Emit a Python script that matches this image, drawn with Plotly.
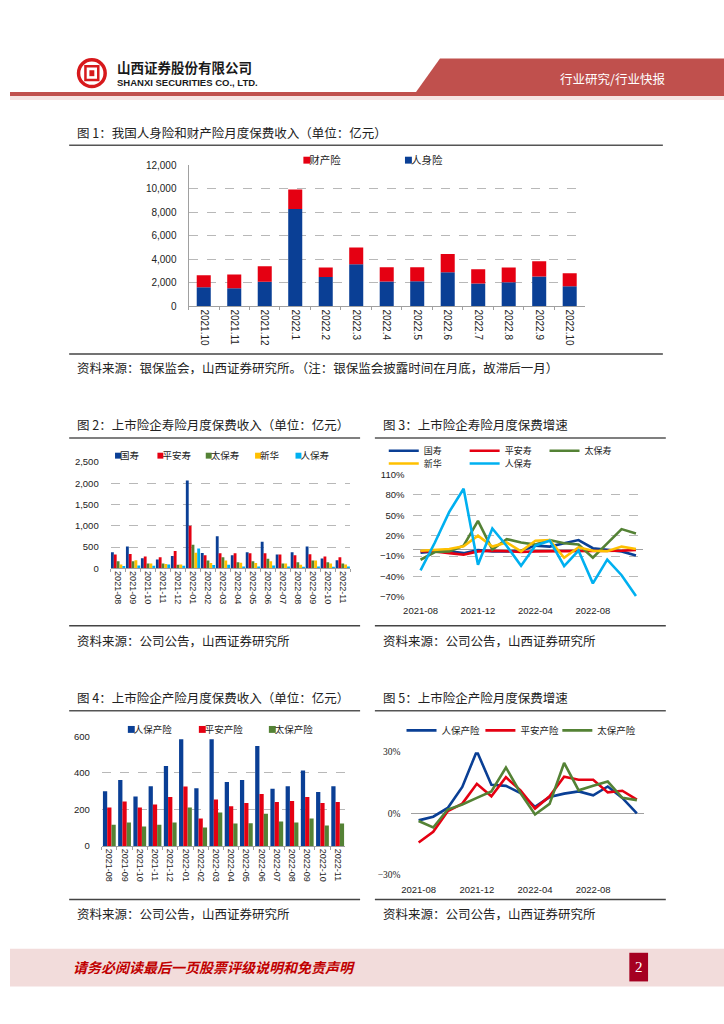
import plotly.graph_objects as go

W, H = 724, 1024
def px(x): return x / W
def py(y): return 1 - y / H

CJK = "Noto Sans CJK SC"
NUM = "Liberation Sans"

# ---------------- Data ----------------
# Fig 1: 人身险 / 财产险 monthly premium (亿元)
months1 = ["2021.10", "2021.11", "2021.12", "2022.1", "2022.2", "2022.3", "2022.4",
           "2022.5", "2022.6", "2022.7", "2022.8", "2022.9", "2022.10"]
life1 = [1620, 1540, 2090, 8280, 2490, 3590, 2120, 2140, 2900, 1940, 2060, 2550, 1710]
prop1 = [1020, 1180, 1330, 1640, 810, 1420, 1210, 1190, 1560, 1220, 1240, 1280, 1100]

# Fig 2/3/4/5 months
months2 = ["2021-08", "2021-09", "2021-10", "2021-11", "2021-12", "2022-01", "2022-02", "2022-03",
           "2022-04", "2022-05", "2022-06", "2022-07", "2022-08", "2022-09", "2022-10", "2022-11"]
ticks2 = ["2021-08", "2021-12", "2022-04", "2022-08"]

# Fig 2: life premium (亿元)
life_names = ["国寿", "平安寿", "太保寿", "新华", "人保寿"]
life_gs = [377, 515, 238, 208, 292, 2066, 362, 754, 308, 377, 623, 323, 377, 515, 231, 192]
life_pa = [323, 338, 277, 262, 408, 1000, 308, 354, 354, 354, 354, 323, 308, 331, 277, 262]
life_tb = [169, 169, 115, 115, 85, 554, 185, 262, 146, 169, 223, 115, 146, 185, 146, 115]
life_xh = [92, 192, 115, 100, 92, 369, 123, 185, 131, 123, 169, 115, 85, 185, 115, 92]
life_rb = [54, 69, 62, 92, 62, 469, 77, 85, 46, 46, 69, 46, 38, 46, 38, 46]

# Fig 3: life premium growth (%)
g_gs = [-5, -3, -3, -5.6, -1, -3, -3, -2, 5.5, 4, 9, 13.7, 1.6, -0.3, -3, -9]
g_pa = [-2.7, -3, -5.6, -8, -3, -2, -2.7, -4, -3, -3, -2.7, -2, -2, -3, -2, -1]
g_tb = [-15.3, -4, -3, 5.5, 41.8, -0.3, 15, 10, 7, 13.7, 9, 7, -12.4, 8, 29.7, 23.4]
g_xh = [-2, -0.3, 0.6, 4.5, 20, 4, 10, -3, 12.7, 13.7, -12.4, 3, -2, -2.7, 4, 0.6]
g_rb = [-30.8, 10, 55, 89, -22.6, 30.6, 5, -24, 5.5, 12.7, -24.5, -1.8, -50, -15, -38, -68.5]

# Fig 4: P&C premium (亿元)
pc_names = ["人保产险", "平安产险", "太保产险"]
pc_rb = [300, 361, 271, 327, 438, 584, 316, 584, 350, 361, 547, 314, 327, 413, 295, 327]
pc_pa = [211, 243, 211, 227, 268, 325, 150, 254, 218, 236, 284, 241, 246, 268, 236, 241]
pc_tb = [116, 129, 107, 116, 129, 211, 102, 184, 123, 125, 177, 134, 129, 150, 112, 123]

# Fig 5: P&C premium growth (%)
p_rb = [-3.4, -1.6, 2.7, 13, 30.5, 14, 13.5, 10, 3.2, 8, 9.7, 10.8, 8.9, 13.2, 7.6, 0]
p_pa = [-14.2, -9, 1.1, 4.8, 14.5, 8.4, 17.7, 11.3, 2.4, 8.4, 18, 16.5, 16.5, 10.3, 11.1, 6.8]
p_tb = [-3.7, -6.9, 1.9, 4.4, 7.6, 10.8, 22.5, 10, -0.5, 4.7, 24.7, 11.3, 13.5, 15.6, 7.6, 6.5]

# ---------------- Styles ----------------
BLUE = "#0a3f95"
RED = "#e50012"
GREEN = "#548235"
YELLOW = "#ffc000"
LBLUE = "#00b0f0"
GRID = "#b8b8b8"
AX = "#a0a0a0"
CLEAR = "rgba(0,0,0,0)"
LEG_DX = 46  # legend text offset from legend x

fig = go.Figure()
legends = {}
leg_count = [0]
shapes = []
ann = []

def new_legend(text_x, y, size=10):
    leg_count[0] += 1
    key = "legend" if leg_count[0] == 1 else "legend%d" % leg_count[0]
    legends[key] = dict(x=px(text_x - LEG_DX), y=py(y), xanchor="left", yanchor="middle",
                        bgcolor=CLEAR, borderwidth=0,
                        font=dict(family=CJK, size=size, color="#222"),
                        orientation="h", tracegroupgap=0, itemwidth=30)
    return key

def add_bar(x, y, name, color, width, offset, xa, ya, leg_x, leg_y, leg_size, sq, base=None):
    """Bar trace; legend entry text via a legend proxy, with a small square key just before it."""
    grp = "%s_%s" % (xa, name)
    fig.add_trace(go.Bar(x=x, y=y, base=base, name=name, marker=dict(color=color, line_width=0),
                         width=width, offset=offset, xaxis=xa, yaxis=ya,
                         legendgroup=grp, showlegend=False))
    fig.add_trace(go.Scatter(x=[None], y=[None], name=name, mode="markers",
                             marker=dict(symbol="square", size=1, color=CLEAR),
                             xaxis=xa, yaxis=ya, legendgroup=grp, hoverinfo="skip",
                             legend=new_legend(leg_x, leg_y, leg_size)))
    x1 = leg_x - 4.5
    shapes.append(dict(type="rect", xref="paper", yref="paper",
                       x0=px(x1 - sq), x1=px(x1), y0=py(leg_y + sq / 2), y1=py(leg_y - sq / 2),
                       fillcolor=color, line=dict(width=0)))

# ---- Fig 1 (stacked via base) ----
add_bar(months1, life1, "人身险", BLUE, 0.46, -0.23, "x", "y", 412, 156, 10.5, 7)
add_bar(months1, prop1, "财产险", RED, 0.46, -0.23, "x", "y", 309, 156, 10.5, 7, base=life1)

# ---- Fig 2 ----
life_series = [life_gs, life_pa, life_tb, life_xh, life_rb]
life_cols = [BLUE, RED, GREEN, YELLOW, LBLUE]
life_legx = [117, 160, 209, 259, 300]
bw2 = 0.19
for k, (nm, vals, c, lx) in enumerate(zip(life_names, life_series, life_cols, life_legx)):
    add_bar(months2, vals, nm, c, bw2, -0.475 + k * bw2, "x2", "y2", lx, 455, 9.5, 6)

# ---- Fig 3 ----
g_series = [g_gs, g_pa, g_tb, g_xh, g_rb]
g_leg = [(425, 450), (507, 450), (588, 450), (425, 463), (507, 463)]
for nm, vals, c, (lx, ly) in zip(life_names, g_series, life_cols, g_leg):
    fig.add_trace(go.Scatter(x=months2, y=vals, name=nm, mode="lines",
                             line=dict(color=c, width=2.6), xaxis="x3", yaxis="y3",
                             legend=new_legend(lx, ly, 9)))

# ---- Fig 4 ----
pc_series = [pc_rb, pc_pa, pc_tb]
pc_cols = [BLUE, RED, GREEN]
pc_legx = [131, 203, 274]
bw4 = 0.28
for k, (nm, vals, c, lx) in enumerate(zip(pc_names, pc_series, pc_cols, pc_legx)):
    add_bar(months2, vals, nm, c, bw4, -0.42 + k * bw4, "x4", "y4", lx, 732, 9.5, 7)

# ---- Fig 5 ----
p_series = [p_rb, p_pa, p_tb]
p_legx = [443, 523, 601]
for nm, vals, c, lx in zip(pc_names, p_series, pc_cols, p_legx):
    fig.add_trace(go.Scatter(x=months2, y=vals, name=nm, mode="lines",
                             line=dict(color=c, width=2.6), xaxis="x5", yaxis="y5",
                             legend=new_legend(lx, 733, 9.5)))

# ---------------- Axes ----------------
def bar_xaxis(x0, x1, anchor, size, n):
    return dict(domain=[px(x0), px(x1)], anchor=anchor, type="category", range=[-0.5, n - 0.5],
                tickangle=90, tickfont=dict(family=NUM, size=size, color="#222"),
                showline=True, linecolor=AX, linewidth=1, ticks="outside", tickson="boundaries",
                ticklen=3, tickcolor=AX, showgrid=False, zeroline=False, fixedrange=True)

def line_xaxis(x0, x1, anchor, size, pad):
    return dict(domain=[px(x0), px(x1)], anchor=anchor, type="category", range=[-0.5, 15.5],
                tickmode="array", tickvals=ticks2, ticktext=ticks2,
                tickfont=dict(family=NUM, size=size, color="#222"),
                showline=False, ticks="outside", ticklen=pad, tickcolor=CLEAR,
                showgrid=False, zeroline=False)

def yax(x_anchor, y0, y1, rng, pad, **kw):
    d = dict(domain=[py(y0), py(y1)], anchor=x_anchor, range=rng,
             ticks="outside", ticklen=pad, tickcolor=CLEAR, showline=False, zeroline=False)
    d.update(kw)
    return d

layout = dict(
    width=W, height=H, margin=dict(l=0, r=0, t=0, b=0),
    paper_bgcolor="white", plot_bgcolor="white", showlegend=True,
    barmode="overlay",
    font=dict(family=CJK, color="#222"),
    xaxis=bar_xaxis(181, 583, "y", 10, 13),
    yaxis=yax("x", 304, 161, [0, 12000], 9, dtick=2000, tickformat=",",
              tickfont=dict(family=NUM, size=10, color="#222"),
              showgrid=True, gridcolor=GRID, griddash="dash", gridwidth=1,
              showline=True, linecolor=AX),
    xaxis2=bar_xaxis(102, 345, "y2", 9, 16),
    yaxis2=yax("x2", 569, 461.5, [0, 2500], 9, dtick=500, tickformat=",",
               tickfont=dict(family=NUM, size=9.5, color="#222"), showgrid=False,
               minor=dict(tickmode="array", tickvals=[500, 1000, 1500, 2000], showgrid=True,
                          gridcolor=GRID, griddash="dash", ticks="")),
    xaxis3=line_xaxis(409, 642, "y3", 9.5, 5),
    yaxis3=yax("x3", 598, 474, [-70, 110], 6, tick0=-70, dtick=30, ticksuffix="%",
               tickfont=dict(family=NUM, size=9.5, color="#222"),
               showgrid=True, gridcolor=GRID, griddash="dash",
               zeroline=True, zerolinecolor=AX, zerolinewidth=1),
    xaxis4=bar_xaxis(93, 340, "y4", 9, 16),
    yaxis4=yax("x4", 850, 739, [0, 600], 9, dtick=200,
               tickfont=dict(family=NUM, size=9.5, color="#222"), showgrid=False,
               minor=dict(tickmode="array", tickvals=[200, 400], showgrid=True,
                          gridcolor=GRID, griddash="dash", ticks="")),
    xaxis5=line_xaxis(407, 643, "y5", 9.5, 6),
    yaxis5=yax("x5", 879, 755, [-30, 30], 8, dtick=30, ticksuffix="%",
               tickfont=dict(family="Liberation Serif", size=9.5, color="#222"),
               showgrid=True, gridcolor=GRID, griddash="dash",
               zeroline=True, zerolinecolor=AX, zerolinewidth=1),
)
layout.update(legends)

# ---------------- Decorations ----------------
def hline(x0, x1, y, color="#555", w=1.5):
    shapes.append(dict(type="line", xref="paper", yref="paper", x0=px(x0), x1=px(x1),
                       y0=py(y), y1=py(y), line=dict(color=color, width=w)))

def rect(x0, y0, x1, y1, fill, line=None, lw=0):
    shapes.append(dict(type="rect", xref="paper", yref="paper", x0=px(x0), x1=px(x1),
                       y0=py(y1), y1=py(y0), fillcolor=fill,
                       line=dict(color=line or fill, width=lw)))

def text(x, y, s, size=12, color="#222", family=CJK, xanchor="left"):
    ann.append(dict(xref="paper", yref="paper", x=px(x), y=py(y), text=s, showarrow=False,
                    xanchor=xanchor, yanchor="middle",
                    font=dict(family=family, size=size, color=color)))

# Header
HRED = "#c0504d"
shapes.append(dict(type="path", xref="paper", yref="paper",
                   path="M %f,%f L %f,%f L %f,%f L %f,%f Z" % (px(436), py(53), px(724), py(53),
                                                             px(724), py(88), px(411), py(88)),
                   fillcolor=HRED, line=dict(width=0)))
rect(0, 87, 724, 91, HRED)
rect(0, 91, 724, 95, "#f6e4e3")
# logo
shapes.append(dict(type="circle", xref="paper", yref="paper", x0=px(69.5), x1=px(96.5),
                   y0=py(81.5), y1=py(54.5), line=dict(color="#d7191c", width=3.5)))
rect(76.5, 61, 89.5, 75, "white", "#d7191c", 2.5)
rect(80.5, 65, 85.5, 71, "#d7191c")
text(106, 62, "<b>山西证券股份有限公司</b>", 13.5, "#1a1a1a")
text(106, 77.5, "<b>SHANXI SECURITIES CO., LTD.</b>", 9.5, "#1a1a1a", NUM)
text(611, 73, "行业研究/行业快报", 12.5, "white", CJK, "center")

# Fig 1
text(66, 128, "图 1：我国人身险和财产险月度保费收入（单位：亿元）", 12.5)
hline(60, 662, 141)
hline(60, 662, 352, "#444")
text(66, 366, "资料来源：银保监会，山西证券研究所。（注：银保监会披露时间在月底，故滞后一月）", 12.5)

# Fig 2 & 3
text(66, 423, "图 2：上市险企寿险月度保费收入（单位：亿元）", 12.5)
text(376, 423, "图 3：上市险企寿险月度保费增速", 12.5)
hline(60, 355, 437)
hline(370, 665, 437)
hline(60, 355, 627, "#444")
hline(370, 665, 627, "#444")
text(66, 642, "资料来源：公司公告，山西证券研究所", 12.5)
text(376, 642, "资料来源：公司公告，山西证券研究所", 12.5)

# Fig 4 & 5
text(66, 700, "图 4：上市险企产险月度保费收入（单位：亿元）", 12.5)
text(376, 700, "图 5：上市险企产险月度保费增速", 12.5)
hline(60, 355, 713)
hline(370, 665, 713)
hline(60, 355, 904, "#444")
hline(370, 665, 904, "#444")
text(66, 918, "资料来源：公司公告，山西证券研究所", 12.5)
text(376, 918, "资料来源：公司公告，山西证券研究所", 12.5)

# Footer
rect(0, 954, 724, 992, "#f2dcdb")
text(62, 972, "<b><i>请务必阅读最后一页股票评级说明和免责声明</i></b>", 14, "#c00000")
rect(628, 958, 647, 987, "#a50021")
text(637.5, 972, "2", 15, "white", "Liberation Serif", "center")

layout["shapes"] = shapes
layout["annotations"] = ann
fig.update_layout(**layout)

fig.write_html("out.html", config={"displayModeBar": False},
               post_script="document.body.style.margin='0';document.body.style.overflow='hidden';")
